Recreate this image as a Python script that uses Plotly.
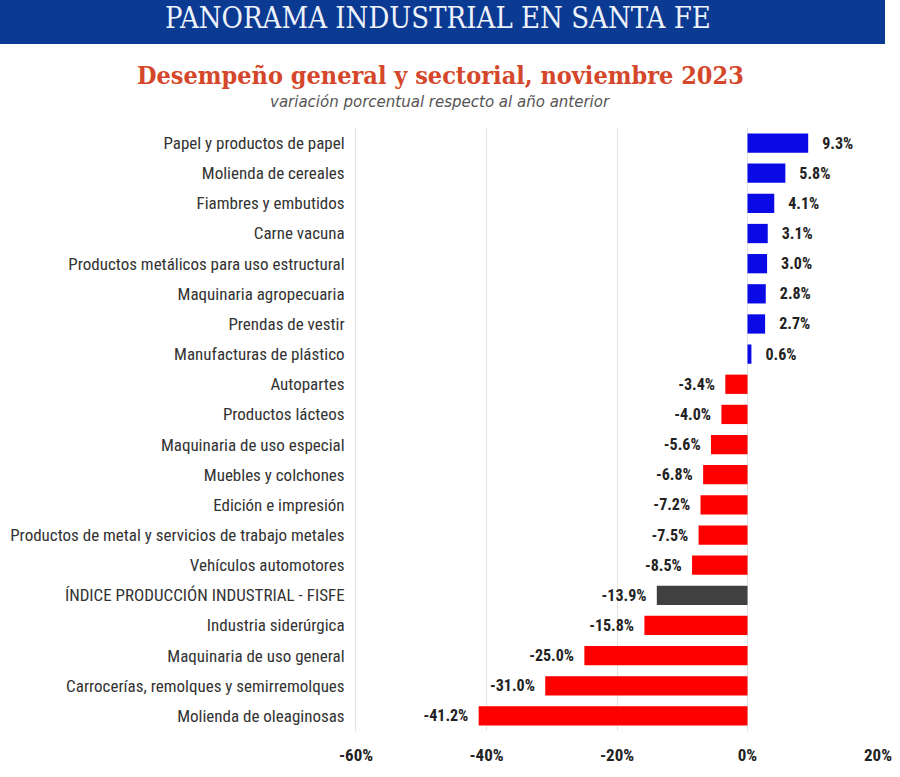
import plotly.graph_objects as go

categories = [
    "Papel y productos de papel",
    "Molienda de cereales",
    "Fiambres y embutidos",
    "Carne vacuna",
    "Productos metálicos para uso estructural",
    "Maquinaria agropecuaria",
    "Prendas de vestir",
    "Manufacturas de plástico",
    "Autopartes",
    "Productos lácteos",
    "Maquinaria de uso especial",
    "Muebles y colchones",
    "Edición e impresión",
    "Productos de metal y servicios de trabajo metales",
    "Vehículos automotores",
    "ÍNDICE PRODUCCIÓN INDUSTRIAL - FISFE",
    "Industria siderúrgica",
    "Maquinaria de uso general",
    "Carrocerías, remolques y semirremolques",
    "Molienda de oleaginosas",
]
values = [9.3, 5.8, 4.1, 3.1, 3.0, 2.8, 2.7, 0.6, -3.4, -4.0, -5.6, -6.8, -7.2,
          -7.5, -8.5, -13.9, -15.8, -25.0, -31.0, -41.2]
tick_vals = [-60, -40, -20, 0, 20]
tick_text = ["<b>-60%</b>", "<b>-40%</b>", "<b>-20%</b>", "<b>0%</b>", "<b>20%</b>"]

INDEX_NAME = "ÍNDICE PRODUCCIÓN INDUSTRIAL - FISFE"
colors = []
for c, v in zip(categories, values):
    if c == INDEX_NAME:
        colors.append("#404040")
    elif v >= 0:
        colors.append("#0a0ae6")
    else:
        colors.append("#ff0000")

texts = [("   <b>%.1f%%</b>" % v) if v >= 0 else ("<b>%.1f%%</b>  " % v) for v in values]

FONT = "Roboto Condensed, Liberation Sans Narrow, Arial Narrow, Roboto"

fig = go.Figure(go.Bar(
    x=values, y=categories, orientation="h",
    marker=dict(color=colors, line=dict(width=0)),
    text=texts, textposition="outside", cliponaxis=False,
    textfont=dict(family=FONT, size=16, color="#222"),
    width=0.64,
))

W, H = 900, 777
L, R, T, B = 356, 22, 128, 46
pw, ph = W - L - R, H - T - B

def px2paper_x(px):
    return (px - L) / pw

def py2paper_y(py):
    return (H - B - py) / ph

fig.update_layout(
    width=W, height=H,
    margin=dict(l=L, r=R, t=T, b=B, autoexpand=False),
    paper_bgcolor="white", plot_bgcolor="white",
    showlegend=False,
    xaxis=dict(range=[-60, 20], tickvals=tick_vals, ticktext=tick_text,
               showgrid=True, gridcolor="#e2e2e2", gridwidth=1,
               zeroline=True, zerolinecolor="#e2e2e2", zerolinewidth=1,
               tickfont=dict(family=FONT, size=17, color="#222"),
               ticks="", ticklabelstandoff=12, fixedrange=True, automargin=False),
    yaxis=dict(autorange="reversed", showgrid=False, zeroline=False,
               showline=True, linecolor="#e2e2e2", linewidth=1,
               tickfont=dict(family=FONT, size=17, color="#333"),
               ticks="", ticklabelstandoff=7, automargin=False),
    bargap=0.33,
    shapes=[dict(type="rect", xref="paper", yref="paper",
                 x0=px2paper_x(0), x1=px2paper_x(885),
                 y0=py2paper_y(44), y1=py2paper_y(-5),
                 fillcolor="#0b3a93", line=dict(width=0), layer="above")],
    annotations=[
        dict(text="PANORAMA INDUSTRIAL EN SANTA FE", xref="paper", yref="paper",
             x=px2paper_x(438), y=py2paper_y(18), xanchor="center", yanchor="middle",
             showarrow=False,
             font=dict(family="DejaVu Serif Condensed, DejaVu Serif, Liberation Serif", size=29, color="#eef2fb")),
        dict(text="<b>Desempeño general y sectorial, noviembre 2023</b>", xref="paper", yref="paper",
             x=px2paper_x(440), y=py2paper_y(75), xanchor="center", yanchor="middle",
             showarrow=False,
             font=dict(family="DejaVu Serif Condensed, DejaVu Serif, Liberation Serif", size=25, color="#d5472a")),
        dict(text="variación porcentual respecto al año anterior", xref="paper", yref="paper",
             x=px2paper_x(440), y=py2paper_y(102), xanchor="center", yanchor="middle",
             showarrow=False,
             font=dict(family="DejaVu Sans, Open Sans", size=15, color="#555", style="italic")),
    ],
)

fig.write_html("out.html")
